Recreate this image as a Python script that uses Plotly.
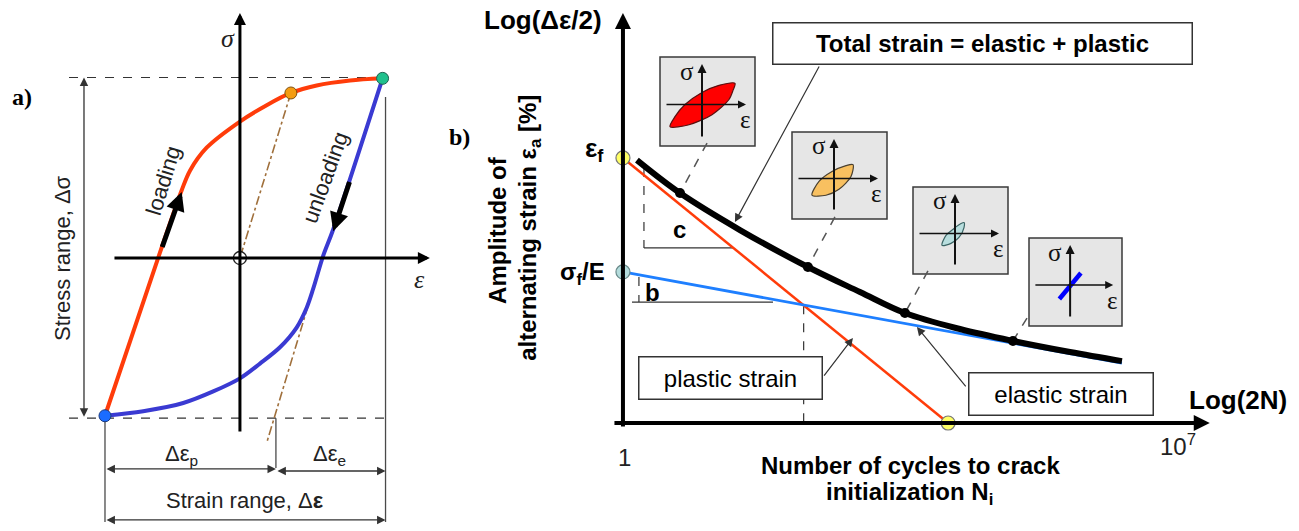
import numpy as np
import plotly.graph_objects as go

# ---------------- a) stress-strain hysteresis loop (normalised units) ----------------
load_eps   = [-0.964, -0.571, -0.416, -0.357, -0.238, 0.0, 0.191, 0.364, 0.548, 0.786, 1.019]
load_sig   = [-0.928, 0.033, 0.399, 0.514, 0.649, 0.803, 0.899, 0.971, 1.015, 1.044, 1.057]
unload_eps = [1.019, 0.666, 0.595, 0.524, 0.476, 0.405, 0.286, 0.143, 0.0, -0.191, -0.405, -0.691, -0.964]
unload_sig = [1.057, 0.168, 0.014, -0.179, -0.294, -0.409, -0.525, -0.621, -0.708, -0.785, -0.853, -0.901, -0.928]
sig_max, sig_min = 1.062, -0.942
eps_min, eps_max = -0.964, 1.019
eps_split = 0.257            # end of plastic strain range on sigma_min
eps_frame = 1.04             # right reference line
yield_pt = (0.364, 0.971)    # orange point on loading branch
elastic1_eps, elastic1_sig = [0.364, 0.0], [0.971, 0.0]
elastic2_eps, elastic2_sig = [0.524, 0.190], [-0.179, -1.090]

# ---------------- b) strain-life curve ----------------
N_total  = [1.5, 5.24, 29.9, 215, 975, 3600, 17800, 82800, 434000, 1.96e6]
ea_total = [0.122, 0.0668, 0.0340, 0.0173, 0.01096, 0.00746, 0.00557, 0.00448, 0.00366, 0.00310]
N_plastic, ea_plastic = [1, 12600], [0.127, 0.001]
N_elastic, ea_elastic = [1, 1.96e6], [0.0158, 0.00299]
N_dots  = [5.24, 215, 3600, 82800]
ea_dots = [0.0668, 0.0173, 0.00746, 0.00448]
N_box   = [11.5, 471, 7015, 124500]        # lower edge of the small loop boxes
ea_box  = [0.1667, 0.0432, 0.0161, 0.00681]
N_cross, ea_cross = 190, 0.0086
ea_floor = 0.00091
c_N, c_top, c_base, c_end = 1.84, 0.1057, 0.0245, 24.4
b_N, b_top, b_base, b_start, b_end = 1.59, 0.01443, 0.00912, 1.30, 78

# small loops shown in the boxes (sigma-epsilon sketches)
loop_red_x = [-3.2, -2.7, -1.7, 0.0, 1.7, 3.3, 3.1, 2.7, 1.0, -1.3, -3.2]
loop_red_y = [-2.2, -1.2, 0.0, 1.2, 1.9, 2.1, 1.4, 0.5, -1.0, -2.0, -2.2]
loop_org_x = [-2.2, -1.5, -0.2, 1.2, 1.9, 1.7, 0.5, -0.8, -2.2]
loop_org_y = [-1.7, -0.3, 0.7, 1.3, 1.4, 0.2, -1.1, -1.7, -1.7]
loop_cyan_x = [-1.3, -0.9, -0.1, 0.6, 0.9, 0.9, 0.4, -0.4, -1.3]
loop_cyan_y = [-1.2, -0.2, 0.5, 1.0, 1.1, 0.6, -0.4, -1.0, -1.2]
line_blue_x = [-1.1, 1.1]
line_blue_y = [-1.4, 1.2]

SANS = "Liberation Sans"
SERIF = "Liberation Serif"
W, H = 1299, 531

fig = go.Figure()

def add(tr, ax="x", ay="y"):
    tr.update(xaxis=ax, yaxis=ay, showlegend=False, hoverinfo="skip", cliponaxis=False)
    fig.add_trace(tr)

# ---------- panel a ----------
gray = "#4a4a4a"
add(go.Scatter(x=[-1.221, eps_max], y=[sig_max, sig_max], mode="lines",
               line=dict(color="#333", width=1.2, dash="dash")))
add(go.Scatter(x=[-1.221, eps_frame], y=[sig_min, sig_min], mode="lines",
               line=dict(color="#333", width=1.2, dash="dash")))
add(go.Scatter(x=[eps_frame, eps_frame], y=[0.947, -1.553], mode="lines", line=dict(color=gray, width=1.3)))
add(go.Scatter(x=[eps_min, eps_min], y=[sig_min, -1.553], mode="lines", line=dict(color=gray, width=1.3)))
add(go.Scatter(x=[eps_split, eps_split], y=[sig_min, -1.235], mode="lines", line=dict(color=gray, width=1.3)))
add(go.Scatter(x=elastic1_eps, y=elastic1_sig, mode="lines", line=dict(color="#a0703c", width=1.6, dash="dashdot")))
add(go.Scatter(x=elastic2_eps, y=elastic2_sig, mode="lines", line=dict(color="#a0703c", width=1.6, dash="dashdot")))
add(go.Scatter(x=load_eps, y=load_sig, mode="lines", line=dict(color="#ff3c0a", width=4, shape="spline", smoothing=0.9)))
add(go.Scatter(x=unload_eps, y=unload_sig, mode="lines", line=dict(color="#3a3ad2", width=4, shape="spline", smoothing=0.9)))

# ---------- panel b ----------
xa, ya = "x2", "y2"
add(go.Scatter(x=[c_N, c_N], y=[c_top, c_base], mode="lines", line=dict(color="#333", width=1.2, dash="dash")), xa, ya)
add(go.Scatter(x=[c_N, c_end], y=[c_base, c_base], mode="lines", line=dict(color="#333", width=1.3)), xa, ya)
add(go.Scatter(x=[b_N, b_N], y=[b_top, b_base], mode="lines", line=dict(color="#333", width=1.2, dash="dash")), xa, ya)
add(go.Scatter(x=[b_start, b_end], y=[b_base, b_base], mode="lines", line=dict(color="#333", width=1.3)), xa, ya)
add(go.Scatter(x=[N_cross, N_cross], y=[ea_cross, ea_floor], mode="lines", line=dict(color="#333", width=1.2, dash="dash")), xa, ya)
for i in range(4):
    add(go.Scatter(x=[N_box[i], N_dots[i]], y=[ea_box[i], ea_dots[i]], mode="lines",
                   line=dict(color="#555", width=1.5, dash="dash")), xa, ya)
add(go.Scatter(x=N_plastic, y=ea_plastic, mode="lines", line=dict(color="#ff3c0a", width=2.5)), xa, ya)
add(go.Scatter(x=N_elastic, y=ea_elastic, mode="lines", line=dict(color="#1e7fff", width=2.8)), xa, ya)
add(go.Scatter(x=N_total, y=ea_total, mode="lines", line=dict(color="black", width=6, shape="spline")), xa, ya)
add(go.Scatter(x=N_dots, y=ea_dots, mode="markers", marker=dict(color="black", size=10)), xa, ya)

# ---------- insets ----------
inset_dom = [
    ((660, 755), (57, 146)),
    ((792, 887), (132, 219)),
    ((913, 1008), (187, 274)),
    ((1029, 1122), (238, 326)),
]
inset_loops = [
    (loop_red_x, loop_red_y, "#ff0000", "#5a1010"),
    (loop_org_x, loop_org_y, "#f8c060", "#4a4030"),
    (loop_cyan_x, loop_cyan_y, "#b8dede", "#3a6464"),
]
for k in range(4):
    axn = f"x{k + 3}"
    ayn = f"y{k + 3}"
    if k < 3:
        lx, ly, fc, lc = inset_loops[k]
        add(go.Scatter(x=lx, y=ly, mode="lines", fill="toself", fillcolor=fc,
                       line=dict(color=lc, width=1.2, shape="spline", smoothing=0.8)), axn, ayn)
    else:
        add(go.Scatter(x=line_blue_x, y=line_blue_y, mode="lines",
                       line=dict(color="#0000ff", width=4.5)), axn, ayn)

# markers on top
add(go.Scatter(x=[0], y=[0], mode="markers",
               marker=dict(color="white", size=13, line=dict(color="#222", width=1.3))))
add(go.Scatter(x=[eps_min], y=[-0.928], mode="markers",
               marker=dict(color="#1a6cff", size=12, line=dict(color="#1a3a80", width=1))))
add(go.Scatter(x=[eps_max], y=[1.057], mode="markers",
               marker=dict(color="#20c08c", size=12, line=dict(color="#206050", width=1))))
add(go.Scatter(x=[yield_pt[0]], y=[yield_pt[1]], mode="markers",
               marker=dict(color="#f39c12", size=12, line=dict(color="#805010", width=1))))
add(go.Scatter(x=[N_plastic[0], N_plastic[1]], y=[ea_plastic[0], ea_plastic[1]], mode="markers",
               marker=dict(color="#ffff66", size=14, line=dict(color="#777", width=1.2))), xa, ya)
add(go.Scatter(x=[N_elastic[0]], y=[ea_elastic[0]], mode="markers",
               marker=dict(color="#b4dcdc", size=14, line=dict(color="#6a8a8a", width=1.2))), xa, ya)

# ---------- annotations ----------
ann = []

def arrow(x, y, ax_, ay_, xr, yr, width=1.2, head=2, size=1.0, color="#222", both=False):
    ann.append(dict(x=x, y=y, ax=ax_, ay=ay_, xref=xr, yref=yr, axref=xr, ayref=yr,
                    text="", showarrow=True, arrowhead=head, startarrowhead=head,
                    arrowsize=size, startarrowsize=size, arrowwidth=width, arrowcolor=color,
                    arrowside="end+start" if both else "end"))

def label(x, y, text, xr, yr, size=22, family=SANS, color="#222", angle=0, xanchor="center", **kw):
    ann.append(dict(x=x, y=y, xref=xr, yref=yr, text=text, showarrow=False, textangle=angle,
                    xanchor=xanchor, yanchor="middle",
                    font=dict(family=family, size=size, color=color), **kw))

# panel a axes and dimensions
arrow(0, 1.441, 0, -1.029, "x", "y", width=3, size=0.8, color="black")
arrow(1.357, 0, -0.907, 0, "x", "y", width=3, size=0.8, color="black")
arrow(-1.114, sig_max, -1.114, sig_min, "x", "y", width=1.3, size=1.3, color="#333", both=True)
arrow(eps_split, -1.241, eps_min, -1.241, "x", "y", width=1.3, size=1.3, color="#333", both=True)
arrow(eps_frame, -1.253, eps_split, -1.253, "x", "y", width=1.3, size=1.3, color="#333", both=True)
arrow(eps_frame, -1.541, eps_min, -1.541, "x", "y", width=1.3, size=1.3, color="#333", both=True)
arrow(-0.416, 0.389, -0.559, 0.056, "x", "y", width=5, size=0.75, color="black")
arrow(0.666, 0.158, 0.786, 0.456, "x", "y", width=5, size=0.75, color="black")

label(-0.086, 1.294, "<i>σ</i>", "x", "y", size=26, family=SERIF)
label(1.286, -0.129, "<i>ε</i>", "x", "y", size=26, family=SERIF)
label(-1.557, 0.947, "<b>a)</b>", "x", "y", size=24, family=SERIF, color="black")
label(-1.271, 0.0, "Stress range, Δσ", "x", "y", size=22, angle=-90)
label(-0.414, -1.159, "Δε<sub>p</sub>", "x", "y", size=22)
label(0.643, -1.159, "Δε<sub>e</sub>", "x", "y", size=22)
label(0.036, -1.424, "Strain range, Δ<b>ε</b>", "x", "y", size=22)
label(-0.55, 0.459, "loading", "x", "y", size=22, angle=-73)
label(0.607, 0.476, "unloading", "x", "y", size=22, angle=-70)

# panel b axes (log10 positions on the log axes)
arrow(0, 0.254, 0, -3.04, "x2", "y2", width=4, size=0.8, color="black")
arrow(7.40, -3, -0.126, -3, "x2", "y2", width=4, size=0.8, color="black")
label(-1.009, 0.198, "<b>Log(Δε/2)</b>", "x2", "y2", size=26, color="black")
label(7.755, -2.817, "<b>Log(2N)</b>", "x2", "y2", size=26, color="black")
label(0.025, -3.27, "1", "x2", "y2", size=24)
label(7.0, -3.175, "10<sup>7</sup>", "x2", "y2", size=24)
label(3.632, -3.341, "<b>Number of cycles to crack</b>", "x2", "y2", size=24, color="black")
label(3.619, -3.563, "<b>initialization N<sub>i</sub></b>", "x2", "y2", size=24, color="black")
label(-1.576, -1.468, "<b>Amplitude of</b>", "x2", "y2", size=24, color="black", angle=-90)
label(-1.173, -1.452, "<b>alternating strain ε<sub>a</sub> [%]</b>", "x2", "y2", size=24, color="black", angle=-90)
label(-2.055, -0.730, "<b>b)</b>", "x2", "y2", size=24, family=SERIF, color="black")
label(-0.214, -0.833, "<b>ε<sub>f</sub></b>", "x2", "y2", size=26, color="black", xanchor="right")
label(-0.202, -1.810, "<b>σ<sub>f</sub>/E</b>", "x2", "y2", size=24, color="black", xanchor="right")
label(0.719, -1.468, "<b>c</b>", "x2", "y2", size=24, color="black")
label(0.378, -1.968, "<b>b</b>", "x2", "y2", size=24, color="black")

box = dict(bgcolor="white", bordercolor="#333", borderwidth=1.5, borderpad=0)
label(4.54, 0.012, "<b>Total strain = elastic + plastic</b>", "x2", "y2", size=24, color="black",
      width=418, height=40, **box)
label(1.356, -2.643, "plastic strain", "x2", "y2", size=24, color="black", width=182, height=41, **box)
label(5.523, -2.770, "elastic strain", "x2", "y2", size=24, color="black", width=183, height=41, **box)
arrow(1.412, -1.405, 2.484, -0.159, "x2", "y2", width=1.2, size=1.4, color="#333")
arrow(2.900, -2.325, 2.522, -2.635, "x2", "y2", width=1.2, size=1.4, color="#333")
arrow(3.707, -2.238, 4.338, -2.722, "x2", "y2", width=1.2, size=1.4, color="#333")

# inset axes and labels
shapes = []
for k in range(4):
    axn, ayn = f"x{k + 3}", f"y{k + 3}"
    shapes.append(dict(type="rect", xref=f"{axn} domain", yref=f"{ayn} domain",
                       x0=0, x1=1, y0=0, y1=1, fillcolor="#e6e6e6",
                       line=dict(color="#3a3a3a", width=1.5), layer="below"))
    arrow(0, 4.0, 0, -3.3, axn, ayn, width=2, size=0.9, color="#111")
    arrow(4.4, 0, -3.7, 0, axn, ayn, width=1.6, size=1.0, color="#111")
    label(-1.5, 3.3, "σ", axn, ayn, size=25, family=SERIF, color="#111")
    label(4.3, -1.5, "ε", axn, ayn, size=25, family=SERIF, color="#111")

layout = dict(
    width=W, height=H, margin=dict(l=0, r=0, t=0, b=0),
    paper_bgcolor="white", plot_bgcolor="rgba(0,0,0,0)",
    showlegend=False, hovermode=False,
    annotations=ann, shapes=shapes,
    xaxis=dict(domain=[0, 0.34], range=[-1.714, 1.441], visible=False),
    yaxis=dict(domain=[0, 1], range=[-1.606, 1.518], visible=False),
    xaxis2=dict(domain=[0.34, 1], type="log", range=[-2.286, 8.525], visible=False),
    yaxis2=dict(domain=[0, 1], type="log", range=[-3.857, 0.357], visible=False),
)
for k in range(4):
    (px0, px1), (py0, py1) = inset_dom[k]
    layout[f"xaxis{k + 3}"] = dict(domain=[px0 / W, px1 / W], range=[-4.2, 5.3], visible=False)
    layout[f"yaxis{k + 3}"] = dict(domain=[1 - py1 / H, 1 - py0 / H], range=[-4.1, 4.7], visible=False)
fig.update_layout(**layout)

fig.write_html("out.html")
